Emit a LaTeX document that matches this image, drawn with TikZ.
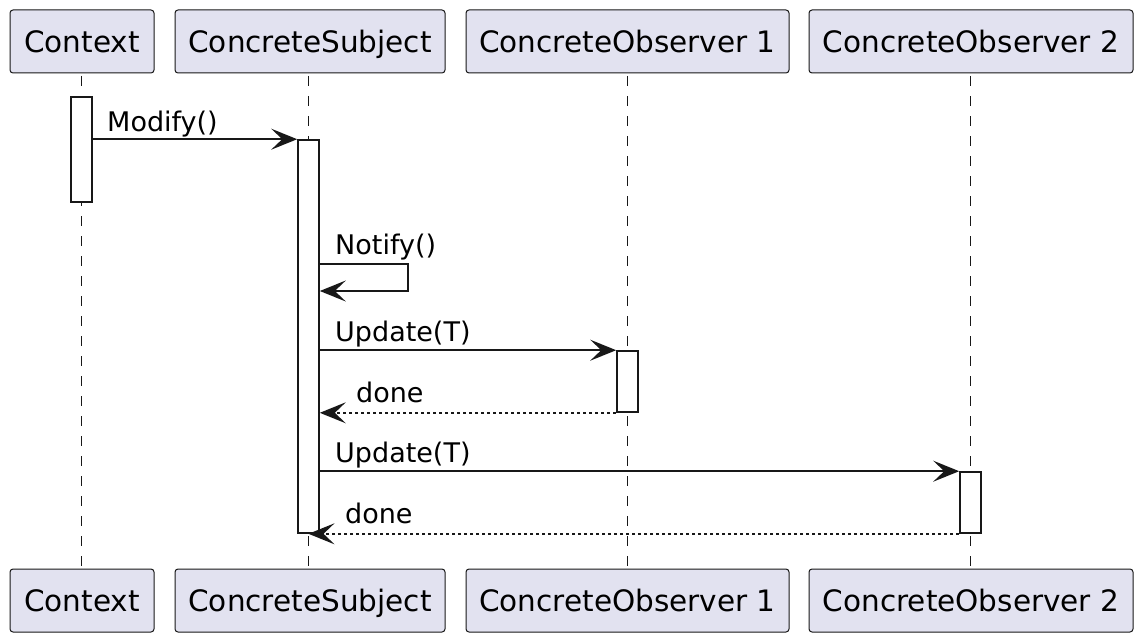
\documentclass[tikz,border=0pt]{standalone}
\usepackage{fontspec}
\setmainfont{DejaVu Sans}
\usetikzlibrary{arrows.meta}
\definecolor{partfill}{HTML}{E2E2F0}
\definecolor{umlline}{HTML}{181818}

\begin{document}
\begin{tikzpicture}[x=1pt, y=-1pt,
	part/.style={draw=umlline, line width=1pt, fill=partfill, rounded corners=3pt, minimum height=63pt, inner sep=0pt, text height=21.5pt, text depth=0pt, font=\fontsize{29.5}{33}\selectfont},
	life/.style={umlline, line width=1pt, dash pattern=on 10pt off 10pt},
	act/.style={draw=umlline, fill=white, line width=1.6pt, minimum width=21pt, inner sep=0pt},
	msg/.style={umlline, line width=1.6pt, -{Stealth[length=26pt, width=21pt, inset=11pt]}},
	ret/.style={msg, dash pattern=on 3.5pt off 2.5pt},
	lbl/.style={anchor=base west, inner sep=0pt, font=\fontsize{27}{31}\selectfont}]
	\useasboundingbox (0,0) rectangle (1143,642);
	\node[part, minimum width=144pt] (ctxtop) at (82,41.5) {Context};
	\node[part, minimum width=270pt] (subjtop) at (310,41.5) {ConcreteSubject};
	\node[part, minimum width=323pt] (obsAtop) at (627.5,41.5) {ConcreteObserver 1};
	\node[part, minimum width=324pt] (obsBtop) at (971,41.5) {ConcreteObserver 2};
	\node[part, minimum width=144pt] (ctxbot) at (82,600.5) {Context};
	\node[part, minimum width=270pt] (subjbot) at (310,600.5) {ConcreteSubject};
	\node[part, minimum width=323pt] (obsAbot) at (627.5,600.5) {ConcreteObserver 1};
	\node[part, minimum width=324pt] (obsBbot) at (971,600.5) {ConcreteObserver 2};
	\draw[life] (81,76) -- (81,569);
	\draw[life] (308.5,76) -- (308.5,569);
	\draw[life] (627,76) -- (627,569);
	\draw[life] (970,76) -- (970,569);
	\node[act, minimum height=105pt] (ctxact) at (81.5,149.5) {};
	\node[act, minimum height=393pt] (subjact) at (308.5,336.5) {};
	\node[act, minimum height=61pt] (obsAact) at (627.5,381.5) {};
	\node[act, minimum height=61pt] (obsBact) at (970.5,502.5) {};
	\coordinate (loopout) at (408,264);
	\coordinate (loopin) at (408,291);
	\draw[msg] (ctxact.east |- subjact.north) -- (subjact.north west);
	\node[lbl] (modlbl) at (107,131) {Modify()};
	\draw[msg] (subjact.east |- loopout) -- (loopout) -- (loopin) -- (subjact.east |- loopin);
	\node[lbl] (notlbl) at (335,254) {Notify()};
	\draw[msg] (subjact.east |- obsAact.north) -- (obsAact.north west);
	\node[lbl] (updAlbl) at (335,341) {Update(T)};
	\draw[ret] (obsAact.south west) -- (subjact.east |- obsAact.south);
	\node[lbl] (doneAlbl) at (356,402) {done};
	\draw[msg] (subjact.east |- obsBact.north) -- (obsBact.north west);
	\node[lbl] (updBlbl) at (335,462) {Update(T)};
	\draw[ret] (obsBact.south west) -- (subjact.south);
	\node[lbl] (doneBlbl) at (345,523) {done};
\end{tikzpicture}
\end{document}
